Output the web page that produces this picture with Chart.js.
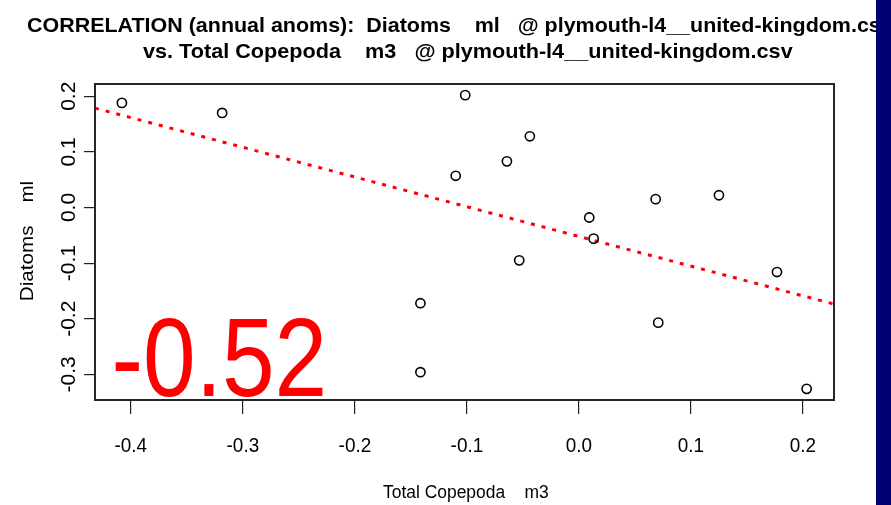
<!DOCTYPE html>
<html>
<head>
<meta charset="utf-8">
<script src="https://cdn.jsdelivr.net/npm/chart.js@4"></script>
<style>
  html, body { margin: 0; padding: 0; background: #fff; overflow: hidden; }
  #chart { display: block; }
</style>
</head>
<body>
<canvas id="chart" width="891" height="505"></canvas>
<script>
// --- DATI (anomalie annuali) ---
const copepodaM3 = [-0.408, -0.3185, -0.1015, -0.110, -0.1415, -0.1415, -0.0438, -0.0643,
                    -0.0533, 0.0092, 0.0131, 0.0685, 0.0708, 0.125, 0.1768, 0.2033];
const diatomsMl  = [0.188, 0.170, 0.202, 0.057, -0.172, -0.296, 0.128, 0.083,
                    -0.095, -0.018, -0.056, 0.015, -0.207, 0.022, -0.116, -0.326];
const xTicks = [-0.4, -0.3, -0.2, -0.1, 0.0, 0.1, 0.2];
const yTicks = [-0.3, -0.2, -0.1, 0.0, 0.1, 0.2];
const xRange = [-0.432, 0.2277];
const yRange = [-0.346, 0.222];
// retta di regressione
const fitSlope = -0.534;
const fitIntercept = -0.052;
const corrLabel = '-0.52';

const titleLine1 = 'CORRELATION (annual anoms):  Diatoms    ml   @ plymouth-l4__united-kingdom.csv';
const titleLine2 = 'vs. Total Copepoda    m3   @ plymouth-l4__united-kingdom.csv';
const xTitle = 'Total Copepoda    m3';
const yTitle = 'Diatoms    ml';

const FONT = '"Liberation Sans", Arial, Helvetica, sans-serif';

// scrive il testo in modo che l'inchiostro vada da x0 a x1
function fitText(ctx, text, font, x0, x1, baseline) {
    ctx.font = font;
    ctx.textAlign = 'left';
    ctx.textBaseline = 'alphabetic';
    const m = ctx.measureText(text);
    const ink = m.actualBoundingBoxLeft + m.actualBoundingBoxRight;
    const sx = (x1 - x0) / ink;
    ctx.save();
    ctx.translate(x0, baseline);
    ctx.scale(sx, 1);
    ctx.fillText(text, m.actualBoundingBoxLeft, 0);
    ctx.restore();
    return sx;
}

function centerText(ctx, text, font, cx, baseline, sx) {
    ctx.font = font;
    ctx.textAlign = 'center';
    ctx.textBaseline = 'alphabetic';
    ctx.save();
    ctx.translate(cx, baseline);
    ctx.scale(sx, 1);
    ctx.fillText(text, 0, 0);
    ctx.restore();
}

const decorPlugin = {
    id: 'decor',
    afterDraw(chart) {
        const ctx = chart.ctx;
        const area = chart.chartArea;
        const xs = chart.scales.x, ys = chart.scales.y;
        ctx.save();
        // riquadro
        ctx.strokeStyle = '#262626';
        ctx.lineWidth = 2;
        ctx.strokeRect(area.left, area.top, area.right - area.left, area.bottom - area.top);

        ctx.fillStyle = '#000';
        // titoli
        fitText(ctx, titleLine1, 'bold 21px ' + FONT, 27, 893, 31.5);
        fitText(ctx, titleLine2, 'bold 21px ' + FONT, 143, 793, 57.5);

        // etichette asse x
        xTicks.forEach(v => {
            centerText(ctx, v.toFixed(1), '19.5px ' + FONT, xs.getPixelForValue(v), 451.5, 0.97);
        });
        // etichette asse y (ruotate)
        yTicks.forEach(v => {
            ctx.save();
            ctx.translate(75, ys.getPixelForValue(v));
            ctx.rotate(-Math.PI / 2);
            centerText(ctx, v.toFixed(1), '21px ' + FONT, 0, 0, 1);
            ctx.restore();
        });
        // titoli assi
        fitText(ctx, xTitle, '17.5px ' + FONT, 383, 548, 498.3);
        ctx.save();
        ctx.translate(33.3, 300);
        ctx.rotate(-Math.PI / 2);
        fitText(ctx, yTitle, '18px ' + FONT, 0, 118, 0);
        ctx.restore();

        // coefficiente
        ctx.fillStyle = '#ff0000';
        fitText(ctx, corrLabel, '112px ' + FONT, 115, 322.7, 395.7);

        // barra blu a destra
        ctx.fillStyle = '#000072';
        ctx.fillRect(876, 0, 15, 505);
        ctx.restore();
    }
};

const tickGrid = (len) => ({
    drawOnChartArea: false,
    drawTicks: true,
    tickLength: len,
    color: '#222',
    lineWidth: 1.2
});

new Chart(document.getElementById('chart').getContext('2d'), {
    type: 'scatter',
    data: {
        datasets: [
            {
                label: 'anomalie',
                data: copepodaM3.map((x, i) => ({ x, y: diatomsMl[i] })),
                pointStyle: 'circle',
                pointRadius: 4.6,
                borderColor: '#000',
                borderWidth: 1.6,
                backgroundColor: 'rgba(0,0,0,0)',
                showLine: false
            },
            {
                label: 'regressione',
                type: 'line',
                data: xRange.map(x => ({ x, y: fitIntercept + fitSlope * x })),
                borderColor: '#ff0000',
                borderWidth: 3,
                borderDash: [4, 7],
                pointRadius: 0,
                fill: false
            }
        ]
    },
    options: {
        responsive: false,
        animation: false,
        devicePixelRatio: 1,
        layout: { padding: { top: 84, right: 57, left: 0, bottom: 0 } },
        plugins: {
            legend: { display: false },
            title: { display: false },
            tooltip: { enabled: false }
        },
        scales: {
            x: {
                type: 'linear',
                min: xRange[0],
                max: xRange[1],
                afterBuildTicks: s => { s.ticks = xTicks.map(v => ({ value: v })); },
                afterFit: s => { s.height = 105; },
                ticks: { display: false },
                grid: tickGrid(14),
                border: { display: false }
            },
            y: {
                type: 'linear',
                min: yRange[0],
                max: yRange[1],
                afterBuildTicks: s => { s.ticks = yTicks.map(v => ({ value: v })); },
                afterFit: s => { s.width = 95; },
                ticks: { display: false },
                grid: tickGrid(11),
                border: { display: false }
            }
        }
    },
    plugins: [decorPlugin]
});
</script>
</body>
</html>
